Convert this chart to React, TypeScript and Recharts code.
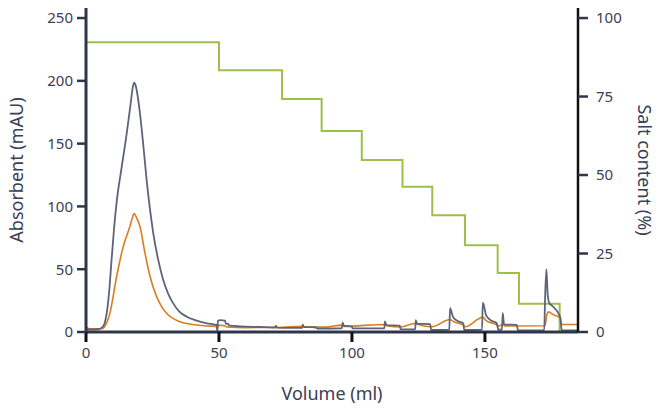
import React from "react";
import { LineChart, Line, XAxis, YAxis } from "recharts";

// UV trace (grey)
const grayVolume = [
  0, 2, 4.5, 6, 7, 7.8, 8.7, 9.6, 10.5, 11.5, 13.4, 15.3, 16.8, 17.6, 18.1,
  18.7, 20.3, 21.6, 22.8, 24.1, 25.3, 27.2, 29.1, 30.8, 32.8, 35, 37.9, 41,
  45.4, 48, 49.2, 49.4, 49.6, 50.5, 52.3, 52.6, 53.3, 54, 58, 65, 71, 71.5,
  71.8, 78, 81.3, 81.5, 82, 86, 87, 96.2, 96.5, 97, 99.9, 100.2, 112.2, 112.4,
  113, 118, 118.3, 123.8, 124, 124.5, 129.4, 129.8, 136.6, 136.9, 138, 140,
  141.9, 142.2, 148.9, 149.2, 150.5, 152.5, 154.5, 155, 156.4, 156.7, 157.2,
  162, 162.4, 172.3, 172.6, 173.1, 173.6, 174.2, 175.2, 178.3, 178.9, 185,
];
const grayAbs = [
  2, 2, 2.2, 3.5, 7, 15, 32, 57, 81, 103, 131, 158, 182, 195, 198.5, 196, 174,
  147.5, 121, 97, 78.6, 57, 41, 31, 22.8, 16.5, 12.2, 9.5, 6.9, 6, 5.5, 0.5, 9,
  9.5, 9, 6.4, 6.6, 5, 4.5, 4, 3.6, 4.8, 3.5, 3.3, 3.3, 5.8, 4, 3.8, 2.8, 3,
  7.4, 5, 4.5, 2.9, 3, 8.5, 5.5, 5, 2.1, 2.2, 9.5, 6.5, 6.3, 1.6, 1.8, 19, 12,
  8.5, 6.9, 1.6, 1.8, 23.3, 13, 9, 6.9, 1.8, 2, 15, 6, 5.6, 1.3, 1.5, 25, 50,
  30, 23, 21, 12, 1.2, 1.2,
];

// second trace (orange)
const orangeVolume = [
  0, 0.5, 1, 4, 5, 6.4, 7.5, 9, 11.5, 14, 16.5, 17.6, 18.1, 18.8, 20.3, 22.2,
  24.1, 26.6, 28.5, 30.3, 35.3, 40, 45.4, 49, 49.3, 49.6, 52, 53, 60, 72, 81.5,
  82, 90, 96.5, 97, 112.4, 113, 118.3, 124, 125, 130, 136.9, 138, 141.9, 142.5,
  149.2, 150.5, 154.5, 155, 156.7, 157.5, 172.6, 173.3, 174, 175.5, 178.3,
  178.9, 185,
];
const orangeAbs = [
  2.5, 3.5, 2.5, 2.5, 2.5, 3, 6, 15, 44, 68, 84, 92, 94.5, 92, 84, 62.6, 44, 28,
  20, 14.9, 8.2, 6, 4.8, 4.5, 2, 5.5, 5, 4, 3.5, 3.6, 4.5, 4, 4, 5.5, 4.5, 6, 5,
  4, 7, 6, 4.2, 10, 8.5, 5.2, 4.2, 11.7, 9, 5.5, 4.5, 6, 4.8, 5, 14, 16, 14, 11,
  6, 6,
];

// salt gradient steps (%)
const saltVolume = [0, 50, 73.7, 88.6, 103.7, 119, 130.2, 142.5, 154.8, 162.8, 178.1];
const saltPct = [92.3, 83.4, 74.2, 64, 54.8, 46.3, 37.2, 27.6, 18.8, 9, 0];

const volumeTicks = [0, 50, 100, 150];
const absTicks = [0, 50, 100, 150, 200, 250];
const saltTicks = [0, 25, 50, 75, 100];

const toPoints = (xs: number[], ys: number[]) =>
  xs.map((v, i) => ({ volume: v, value: ys[i] }));

const grayData = toPoints(grayVolume, grayAbs);
const orangeData = toPoints(orangeVolume, orangeAbs);
const saltData = toPoints(saltVolume, saltPct);

const FONT = "'Noto Sans', sans-serif";
const TEXT = "#3a4055";
const AXIS = "#2f364a";

export default function App() {
  return (
    <div style={{ position: "absolute", left: 0, top: 0, width: 658, height: 410, fontFamily: FONT }}>
      <LineChart width={658} height={410} margin={{ top: 8, right: 0, bottom: 8, left: 0 }}>
        <XAxis
          type="number"
          dataKey="volume"
          domain={[0, 185]}
          ticks={volumeTicks}
          allowDataOverflow
          height={70}
          tickSize={10}
          tickMargin={5}
          axisLine={{ stroke: AXIS, strokeWidth: 3 }}
          tickLine={{ stroke: "#111", strokeWidth: 3 }}
          tick={{ fill: TEXT, fontSize: 15, fontFamily: FONT }}
          label={{
            value: "Volume (ml)",
            position: "insideBottom",
            offset: 2,
            fill: TEXT,
            fontSize: 18,
            fontFamily: FONT,
          }}
        />
        <YAxis
          yAxisId="abs"
          domain={[0, 258]}
          ticks={absTicks}
          allowDataOverflow
          width={86}
          tickSize={9}
          tickMargin={4}
          axisLine={{ stroke: AXIS, strokeWidth: 3 }}
          tickLine={{ stroke: AXIS, strokeWidth: 2.5 }}
          tick={{ fill: TEXT, fontSize: 15, fontFamily: FONT }}
          label={{
            value: "Absorbent (mAU)",
            angle: -90,
            position: "insideLeft",
            offset: 17,
            fill: TEXT,
            fontSize: 18,
            fontFamily: FONT,
            style: { textAnchor: "middle" },
          }}
        />
        <YAxis
          yAxisId="salt"
          orientation="right"
          domain={[0, 103.2]}
          ticks={saltTicks}
          allowDataOverflow
          width={80}
          tickSize={10}
          tickMargin={8}
          axisLine={{ stroke: "#111", strokeWidth: 2.5 }}
          tickLine={{ stroke: AXIS, strokeWidth: 2.5 }}
          tick={{ fill: TEXT, fontSize: 15, fontFamily: FONT }}
          label={{
            value: "Salt content (%)",
            angle: 90,
            position: "insideRight",
            offset: 14,
            fill: TEXT,
            fontSize: 18,
            fontFamily: FONT,
            style: { textAnchor: "middle" },
          }}
        />
        <Line
          yAxisId="salt"
          data={saltData}
          dataKey="value"
          type="stepAfter"
          stroke="#9dbf4c"
          strokeWidth={2}
          dot={false}
          isAnimationActive={false}
        />
        <Line
          yAxisId="abs"
          data={orangeData}
          dataKey="value"
          type="monotone"
          stroke="#d97d1e"
          strokeWidth={1.6}
          dot={false}
          isAnimationActive={false}
        />
        <Line
          yAxisId="abs"
          data={grayData}
          dataKey="value"
          type="monotone"
          stroke="#5b6478"
          strokeWidth={1.8}
          dot={false}
          isAnimationActive={false}
        />
      </LineChart>
    </div>
  );
}
